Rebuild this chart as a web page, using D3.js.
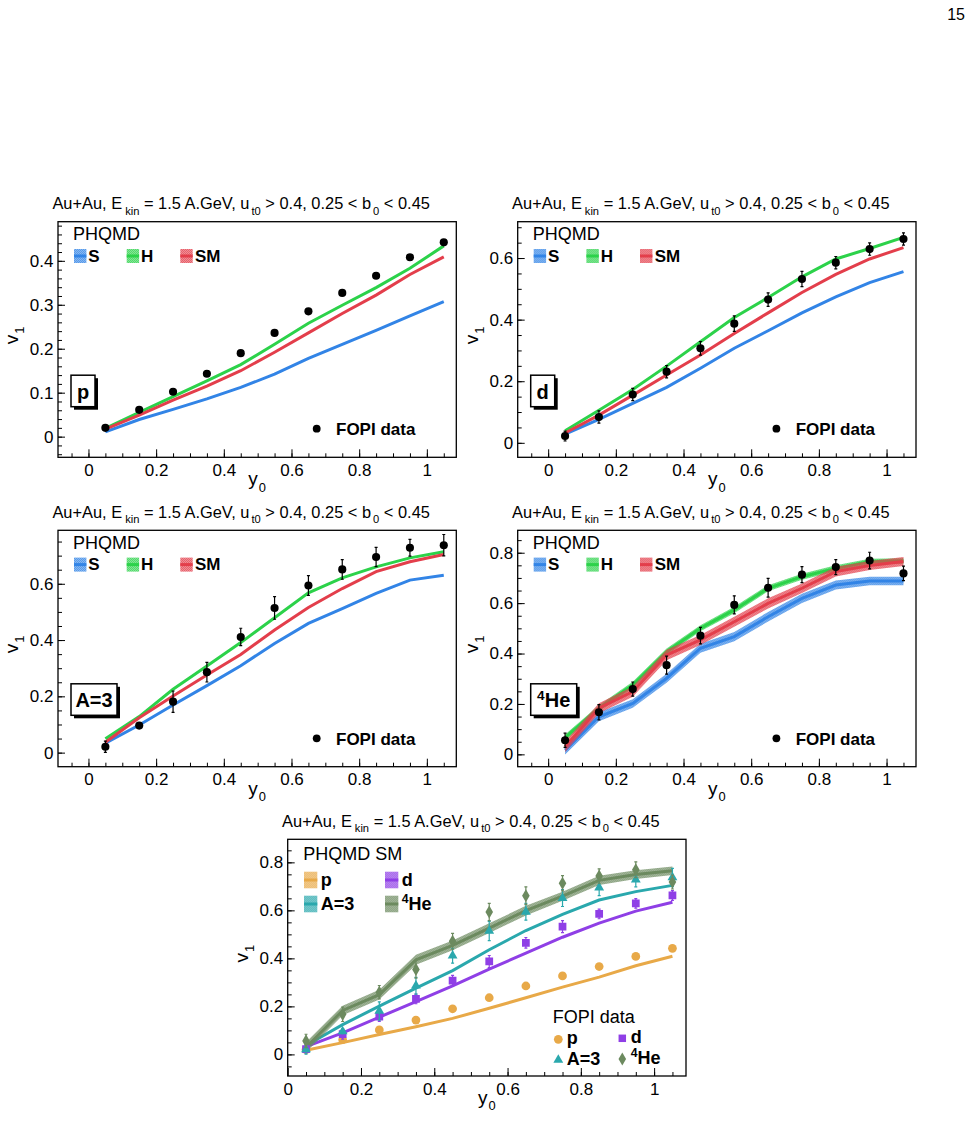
<!DOCTYPE html>
<html>
<head>
<meta charset="utf-8">
<script src="https://cdn.jsdelivr.net/npm/d3@7"></script>
<style>
  body { margin: 0; background: #fff; }
  text { font-family: "Liberation Sans", Arial, Helvetica, sans-serif; }
</style>
</head>
<body>
<script>
// rapidity bins (same for data and model)
const y0Bins = [0.05, 0.15, 0.25, 0.35, 0.45, 0.55, 0.65, 0.75, 0.85, 0.95, 1.05];

// FOPI data
const fopiP = [0.020, 0.061, 0.102, 0.143, 0.190, 0.236, 0.285, 0.327, 0.366, 0.408, 0.442];
const fopiPErr = [0.004, 0.004, 0.004, 0.004, 0.004, 0.004, 0.005, 0.005, 0.005, 0.005, 0.005];
const fopiD = [0.022, 0.084, 0.157, 0.231, 0.307, 0.387, 0.465, 0.532, 0.585, 0.629, 0.662];
const fopiDErr = [0.016, 0.02, 0.02, 0.02, 0.022, 0.025, 0.022, 0.025, 0.02, 0.02, 0.02];
const fopiA3 = [0.021, 0.096, 0.181, 0.286, 0.411, 0.514, 0.594, 0.651, 0.695, 0.728, 0.737];
const fopiA3Err = [0.02, 0.01, 0.038, 0.035, 0.031, 0.04, 0.035, 0.035, 0.034, 0.03, 0.038];
const fopiHe = [0.056, 0.167, 0.259, 0.354, 0.471, 0.593, 0.661, 0.713, 0.743, 0.769, 0.718];
const fopiHeErr = [0.028, 0.03, 0.028, 0.036, 0.033, 0.036, 0.037, 0.032, 0.03, 0.033, 0.029];

// PHQMD: S, H, SM
const pS  = [0.011, 0.039, 0.062, 0.086, 0.112, 0.142, 0.178, 0.210, 0.242, 0.275, 0.307];
const pH  = [0.019, 0.055, 0.091, 0.127, 0.164, 0.210, 0.258, 0.299, 0.339, 0.383, 0.434];
const pSM = [0.017, 0.049, 0.083, 0.115, 0.150, 0.192, 0.236, 0.280, 0.322, 0.369, 0.409];

const dS  = [0.028, 0.076, 0.128, 0.180, 0.242, 0.307, 0.364, 0.422, 0.474, 0.520, 0.556];
const dH  = [0.039, 0.106, 0.173, 0.249, 0.328, 0.407, 0.472, 0.539, 0.597, 0.631, 0.667];
const dSM = [0.032, 0.090, 0.155, 0.220, 0.285, 0.355, 0.422, 0.488, 0.547, 0.597, 0.634];

const a3S  = [0.034, 0.098, 0.169, 0.238, 0.309, 0.388, 0.459, 0.512, 0.566, 0.613, 0.630];
const a3H  = [0.049, 0.128, 0.225, 0.308, 0.391, 0.479, 0.568, 0.621, 0.660, 0.692, 0.714];
const a3SM = [0.037, 0.124, 0.201, 0.276, 0.349, 0.436, 0.516, 0.583, 0.643, 0.678, 0.704];

const heS  = [0.017, 0.149, 0.202, 0.302, 0.421, 0.467, 0.546, 0.619, 0.672, 0.688, 0.688];
const heH  = [0.066, 0.183, 0.275, 0.407, 0.500, 0.573, 0.659, 0.705, 0.738, 0.765, 0.767];
const heSM = [0.030, 0.183, 0.249, 0.394, 0.454, 0.526, 0.599, 0.659, 0.725, 0.749, 0.765];
const heSErr  = [0.018, 0.018, 0.017, 0.018, 0.018, 0.018, 0.019, 0.018, 0.018, 0.017, 0.017];
const heHErr  = [0.013, 0.012, 0.013, 0.013, 0.012, 0.013, 0.012, 0.012, 0.012, 0.011, 0.011];
const heSMErr = [0.021, 0.02, 0.02, 0.021, 0.02, 0.02, 0.02, 0.019, 0.019, 0.018, 0.018];

const xTicks = [0, 0.2, 0.4, 0.6, 0.8, 1];

const col = {
  S: "#3284e6", H: "#2cd24a", SM: "#e33e4b",
  p: "#e8a948", d: "#8f3fe6", a3: "#2aa8ad", he: "#6c8a5f"
};

const W = 974, H = 1144;
const svg = d3.select("body").append("svg").attr("width", W).attr("height", H);
svg.append("rect").attr("width", W).attr("height", H).attr("fill", "#fff");

// dithered fills like ROOT's fill styles
const defs = svg.append("defs");
Object.entries(col).forEach(([k, c]) => {
  const pat = defs.append("pattern").attr("id", "hatch-" + k)
    .attr("patternUnits", "userSpaceOnUse").attr("width", 2).attr("height", 2);
  pat.append("rect").attr("width", 2).attr("height", 2).attr("fill", c).attr("opacity", 0.4);
  pat.append("rect").attr("x", 0).attr("y", 0).attr("width", 1).attr("height", 1).attr("fill", c);
  pat.append("rect").attr("x", 1).attr("y", 1).attr("width", 1).attr("height", 1).attr("fill", c);
});

// text with sub/superscripts: parts = [[str, "sub"|"sup"|null, dx]]
function richText(g, x, y, parts, size, opts = {}) {
  const t = g.append("text").attr("x", x).attr("y", y)
    .attr("font-size", size)
    .attr("font-weight", opts.bold ? "bold" : "normal")
    .attr("text-anchor", opts.anchor || "start");
  if (opts.transform) t.attr("transform", opts.transform);
  let shift = 0;
  parts.forEach(([s, kind, dx]) => {
    let target = kind === "sub" ? size * 0.33 : kind === "sup" ? -size * 0.38 : 0;
    const ts = t.append("tspan").text(s).attr("dy", target - shift);
    if (dx) ts.attr("dx", dx);
    ts.attr("font-size", kind ? size * 0.68 : size);
    shift = target;
  });
  return t;
}

const titleParts = [
  ["Au+Au, E"], ["kin", "sub", 3], [" = 1.5 A.GeV, u"], ["t0", "sub", 2],
  [" > 0.4, 0.25 < b"], ["0", "sub", 2], [" < 0.45"]
];

function drawPanel(cfg) {
  const w = cfg.w, h = cfg.h;
  const g = svg.append("g").attr("transform", `translate(${cfg.left},${cfg.top})`);
  const x = d3.scaleLinear().domain(cfg.xDomain).range([0, w]);
  const y = d3.scaleLinear().domain(cfg.yDomain).range([h, 0]);

  const plot = g.append("g");
  plot.append("defs").append("clipPath").attr("id", "clip-" + cfg.id)
    .append("rect").attr("width", w).attr("height", h);
  const inner = plot.append("g").attr("clip-path", `url(#clip-${cfg.id})`);

  // model curves (band + central line)
  cfg.models.forEach(m => {
    const pts = y0Bins.map((b, i) => ({ x: b, v: m.values[i], e: m.err ? m.err[i] : 0 }));
    if (m.err) {
      inner.append("path").datum(pts)
        .attr("d", d3.area().x(d => x(d.x)).y0(d => y(d.v - d.e)).y1(d => y(d.v + d.e)))
        .attr("fill", `url(#hatch-${m.key})`);
    }
    inner.append("path").datum(pts)
      .attr("d", d3.line().x(d => x(d.x)).y(d => y(d.v)))
      .attr("fill", "none").attr("stroke", col[m.key]).attr("stroke-width", m.lw || 3);
  });

  // data with error bars
  cfg.data.forEach(s => {
    const pts = y0Bins.map((b, i) => ({ x: b, v: s.values[i], e: s.err[i] }));
    const c = s.color || "#000";
    const eb = inner.append("g").attr("stroke", c).attr("stroke-width", 1.2);
    eb.selectAll("line.v").data(pts).join("line")
      .attr("x1", d => x(d.x)).attr("x2", d => x(d.x))
      .attr("y1", d => y(d.v - d.e)).attr("y2", d => y(d.v + d.e));
    eb.selectAll("line.t").data(pts).join("line")
      .attr("x1", d => x(d.x) - 1.5).attr("x2", d => x(d.x) + 1.5)
      .attr("y1", d => y(d.v + d.e)).attr("y2", d => y(d.v + d.e));
    eb.selectAll("line.b").data(pts).join("line")
      .attr("x1", d => x(d.x) - 1.5).attr("x2", d => x(d.x) + 1.5)
      .attr("y1", d => y(d.v - d.e)).attr("y2", d => y(d.v - d.e));
    inner.append("g").selectAll("path").data(pts).join("path")
      .attr("transform", d => `translate(${x(d.x)},${y(d.v)})`)
      .attr("d", d3.symbol().type(s.symbol || d3.symbolCircle).size(s.size || 52))
      .attr("fill", c);
  });

  // axes (ticks pointing inward)
  const styleAxis = sel => {
    sel.select(".domain").remove();
    sel.selectAll("text").attr("font-size", 17).attr("fill", "#000")
      .attr("font-family", "Liberation Sans, Arial, sans-serif");
    sel.selectAll("line").attr("stroke", "#000").attr("stroke-width", 1);
  };
  const fmt = d => String(+d.toFixed(2));
  g.append("g").attr("transform", `translate(0,${h})`)
    .call(d3.axisBottom(x).tickValues(xTicks).tickFormat(fmt).tickSize(-8).tickSizeOuter(0).tickPadding(6.6))
    .call(styleAxis);
  g.append("g").attr("transform", `translate(0,${h})`)
    .call(d3.axisBottom(x).tickValues(d3.range(-0.05, cfg.xDomain[1], 0.05).filter(v => v > cfg.xDomain[0] + 0.001))
      .tickFormat("").tickSize(-4).tickSizeOuter(0))
    .call(styleAxis);
  g.append("g")
    .call(d3.axisLeft(y).tickValues(cfg.yTicks).tickFormat(fmt).tickSize(-7).tickSizeOuter(0).tickPadding(4.5))
    .call(styleAxis);
  g.append("g")
    .call(d3.axisLeft(y).tickValues(d3.range(-0.1, cfg.yDomain[1], cfg.yMinor).filter(v => v > cfg.yDomain[0]))
      .tickFormat("").tickSize(-4).tickSizeOuter(0))
    .call(styleAxis);

  g.append("rect").attr("width", w).attr("height", h)
    .attr("fill", "none").attr("stroke", "#000").attr("stroke-width", 1.3);

  // titles
  richText(g, w / 2 - 16, -12.4, titleParts, 16.4, { anchor: "middle" });
  richText(g, w / 2, h + 28, [["y"], ["0", "sub", 1]], 19, { anchor: "middle" });
  richText(g, 0, 0, [["v"], ["1", "sub", 1]], 19,
    { anchor: "middle", transform: `translate(-40,${h / 2 - 4}) rotate(-90)` });

  cfg.decorate(g, w, h);
}

// legend used in the four single-species panels
function modelLegend(g) {
  g.append("text").attr("x", 15).attr("y", 18.5).attr("font-size", 18).text("PHQMD");
  [["S", 16, 30.3], ["H", 68.7, 83], ["SM", 122.3, 137]].forEach(([k, sx, tx]) => {
    g.append("rect").attr("x", sx).attr("y", 27.3).attr("width", 12.4).attr("height", 14)
      .attr("fill", `url(#hatch-${k})`);
    g.append("line").attr("x1", sx).attr("x2", sx + 12.4).attr("y1", 34.3).attr("y2", 34.3)
      .attr("stroke", col[k]).attr("stroke-width", 3);
    g.append("text").attr("x", tx).attr("y", 40).attr("font-size", 17)
      .attr("font-weight", "bold").text(k);
  });
}

function fopiLegend(g, dy) {
  g.append("circle").attr("cx", 258.7).attr("cy", 207 + dy).attr("r", 3.9).attr("fill", "#000");
  g.append("text").attr("x", 278).attr("y", 213.3 + dy).attr("font-size", 17)
    .attr("font-weight", "bold").text("FOPI data");
}

function speciesBox(g, bw, parts) {
  g.append("rect").attr("x", 16).attr("y", 156.5).attr("width", bw).attr("height", 31.5).attr("fill", "#000");
  g.append("rect").attr("x", 13).attr("y", 153.5).attr("width", bw).attr("height", 31.5)
    .attr("fill", "#fff").attr("stroke", "#000").attr("stroke-width", 1.5);
  richText(g, 13 + bw / 2, 177, parts, 20, { anchor: "middle", bold: true });
}

const PW = 398.3, PH = 235.6;

drawPanel({
  id: "p", left: 58, top: 221.7, w: PW, h: PH,
  xDomain: [-0.09, 1.087], yDomain: [-0.047, 0.489], yTicks: [0, 0.1, 0.2, 0.3, 0.4], yMinor: 0.02,
  models: [{ key: "S", values: pS }, { key: "H", values: pH }, { key: "SM", values: pSM }],
  data: [{ values: fopiP, err: fopiPErr }],
  decorate: (g) => { modelLegend(g); fopiLegend(g, 0); speciesBox(g, 24, [["p"]]); }
});

drawPanel({
  id: "d", left: 517.7, top: 221.7, w: PW, h: PH,
  xDomain: [-0.09, 1.087], yDomain: [-0.047, 0.718], yTicks: [0, 0.2, 0.4, 0.6], yMinor: 0.05,
  models: [{ key: "S", values: dS }, { key: "H", values: dH }, { key: "SM", values: dSM }],
  data: [{ values: fopiD, err: fopiDErr }],
  decorate: (g) => { modelLegend(g); fopiLegend(g, 0); speciesBox(g, 24, [["d"]]); }
});

drawPanel({
  id: "a3", left: 58, top: 530.3, w: PW, h: 236.4,
  xDomain: [-0.09, 1.087], yDomain: [-0.05, 0.79], yTicks: [0, 0.2, 0.4, 0.6], yMinor: 0.05,
  models: [{ key: "S", values: a3S }, { key: "H", values: a3H }, { key: "SM", values: a3SM }],
  data: [{ values: fopiA3, err: fopiA3Err }],
  decorate: (g) => { modelLegend(g); fopiLegend(g, 1); speciesBox(g, 46, [["A=3"]]); }
});

drawPanel({
  id: "he", left: 517.7, top: 530.3, w: PW, h: 236.4,
  xDomain: [-0.09, 1.087], yDomain: [-0.049, 0.889], yTicks: [0, 0.2, 0.4, 0.6, 0.8], yMinor: 0.05,
  models: [
    { key: "S", values: heS, err: heSErr },
    { key: "H", values: heH, err: heHErr },
    { key: "SM", values: heSM, err: heSMErr }
  ],
  data: [{ values: fopiHe, err: fopiHeErr }],
  decorate: (g) => { modelLegend(g); fopiLegend(g, 1); speciesBox(g, 46, [["4", "sup"], ["He"]]); }
});

drawPanel({
  id: "sm", left: 287.7, top: 839.3, w: PW, h: 236.7,
  xDomain: [0, 1.087], yDomain: [-0.09, 0.896], yTicks: [0, 0.2, 0.4, 0.6, 0.8], yMinor: 0.05,
  models: [
    { key: "p", values: pSM }, { key: "d", values: dSM },
    { key: "a3", values: a3SM }, { key: "he", values: heSM, err: heSMErr }
  ],
  data: [
    { values: fopiP, err: fopiPErr, color: col.p, size: 60 },
    { values: fopiD, err: fopiDErr, color: col.d, symbol: d3.symbolSquare, size: 60 },
    { values: fopiA3, err: fopiA3Err, color: col.a3, symbol: d3.symbolTriangle, size: 42 },
    { values: fopiHe, err: fopiHeErr, color: col.he, symbol: d3.symbolDiamond, size: 50 }
  ],
  decorate: (g) => {
    g.append("text").attr("x", 15.6).attr("y", 20.7).attr("font-size", 18).text("PHQMD SM");
    [["p", 16.3, 40.7, [["p"]]], ["d", 97.3, 40.7, [["d"]]],
     ["a3", 16.3, 64.7, [["A=3"]]], ["he", 97.3, 64.7, [["4", "sup"], ["He"]]]].forEach(([k, sx, cy, parts]) => {
      g.append("rect").attr("x", sx).attr("y", cy - 8.3).attr("width", 13.3).attr("height", 16.6)
        .attr("fill", `url(#hatch-${k})`);
      g.append("line").attr("x1", sx).attr("x2", sx + 13.3).attr("y1", cy).attr("y2", cy)
        .attr("stroke", col[k]).attr("stroke-width", 3);
      richText(g, sx + 16.7, cy + 6, parts, 18, { bold: true });
    });
    g.append("text").attr("x", 265).attr("y", 184).attr("font-size", 18).text("FOPI data");
    [["p", d3.symbolCircle, 60, 270.6, 200, [["p"]]],
     ["d", d3.symbolSquare, 56, 334.6, 199, [["d"]]],
     ["a3", d3.symbolTriangle, 42, 270.6, 220.7, [["A=3"]]],
     ["he", d3.symbolDiamond, 50, 334.6, 219.7, [["4", "sup"], ["He"]]]].forEach(([k, sym, sz, cx, cy, parts]) => {
      g.append("path").attr("transform", `translate(${cx},${cy})`)
        .attr("d", d3.symbol().type(sym).size(sz)).attr("fill", col[k]);
      richText(g, cx + 8.4, cy + 5, parts, 18, { bold: true });
    });
  }
});

// page number
svg.append("text").attr("x", 965).attr("y", 20).attr("text-anchor", "end")
  .attr("font-size", 16).attr("font-family", "Liberation Serif, serif").text("15");
</script>
</body>
</html>
